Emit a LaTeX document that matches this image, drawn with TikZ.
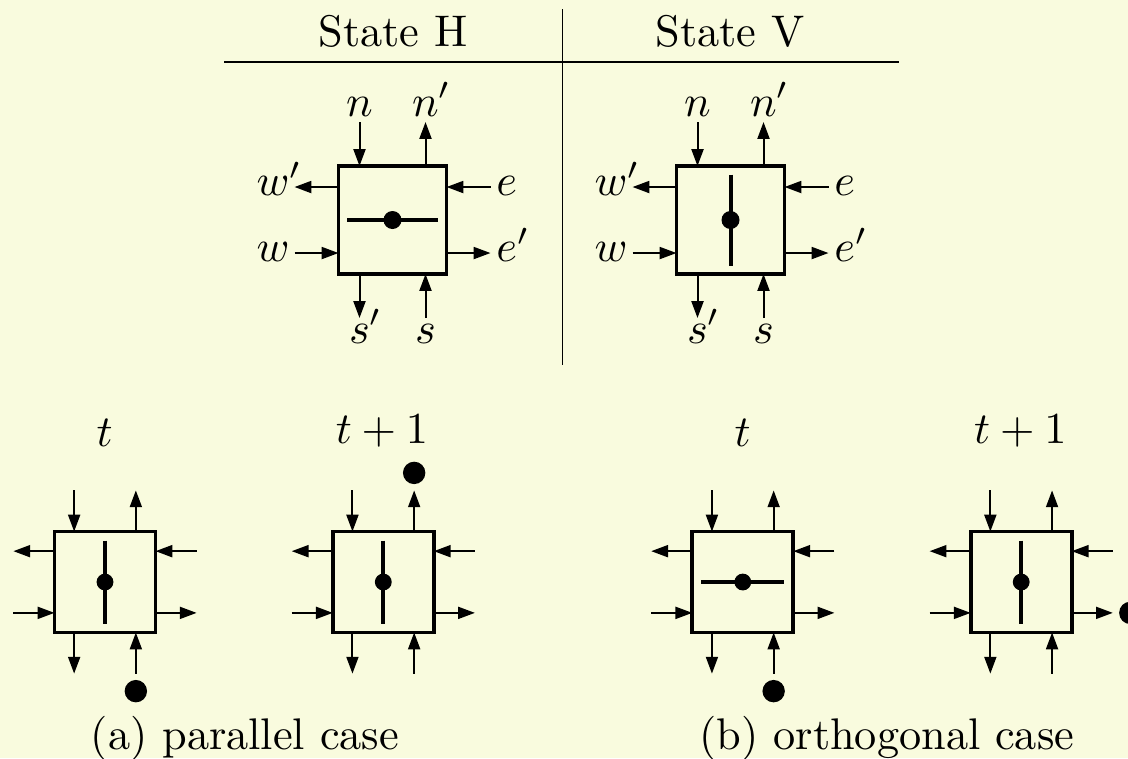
\documentclass[tikz,border=0pt]{standalone}
\usetikzlibrary{arrows.meta,calc}
\definecolor{bgyellow}{RGB}{249,251,222}
\tikzset{
  boxline/.style={line width=0.85pt},
  barline/.style={line width=0.9pt},
  stub/.style={line width=0.45pt,-{Triangle[length=3.8pt,width=2.7pt]}},
  lab/.style={anchor=base,inner sep=0pt},
  rulestyle/.style={line width=0.4pt},
}
% #1 name, #2 x, #3 y, #4 scale, #5 bar start, #6 bar end
\newcommand\gcell[6]{%
 \begin{scope}[shift={(#2,#3)},scale=#4]
  \coordinate (#1) at (0,0);
  \coordinate (#1-nw) at (-54,-54); \coordinate (#1-se) at (54,54);
  \coordinate (#1-n0) at (-33,-98); \coordinate (#1-n1) at (-33,-54);
  \coordinate (#1-np1) at (33,-54); \coordinate (#1-np0) at (33,-98);
  \coordinate (#1-wp1) at (-54,-33); \coordinate (#1-wp0) at (-98,-33);
  \coordinate (#1-e0) at (98,-33); \coordinate (#1-e1) at (54,-33);
  \coordinate (#1-w0) at (-98,33); \coordinate (#1-w1) at (-54,33);
  \coordinate (#1-ep1) at (54,33); \coordinate (#1-ep0) at (98,33);
  \coordinate (#1-sp1) at (-33,54); \coordinate (#1-sp0) at (-33,98);
  \coordinate (#1-s0) at (33,98); \coordinate (#1-s1) at (33,54);
  \coordinate (#1-b0) at (#5); \coordinate (#1-b1) at (#6);
  \draw[boxline] (#1-nw) rectangle (#1-se);
  \draw[stub] (#1-n0) -- (#1-n1);
  \draw[stub] (#1-np1) -- (#1-np0);
  \draw[stub] (#1-wp1) -- (#1-wp0);
  \draw[stub] (#1-e0) -- (#1-e1);
  \draw[stub] (#1-w0) -- (#1-w1);
  \draw[stub] (#1-ep1) -- (#1-ep0);
  \draw[stub] (#1-sp1) -- (#1-sp0);
  \draw[stub] (#1-s0) -- (#1-s1);
  \draw[barline] (#1-b0) -- (#1-b1);
  \fill (#1) circle[radius=9];
 \end{scope}}
% labels for a top cell
\newcommand\glabels[3]{%
 \begin{scope}[shift={(#2,#3)}]
  \node[lab] (#1-ln)  at (-33,-104) {$n$};
  \node[lab] (#1-lnp) at (33,-104) {$n\rlap{$'$}$};
  \node[lab] (#1-lwp) at (-119.5,-24.5) {$w\rlap{$'$}$};
  \node[lab] (#1-lw)  at (-119.5,41.5) {$w$};
  \node[lab] (#1-le)  at (114.3,-24.5) {$e$};
  \node[lab] (#1-lep) at (114.3,41.5) {$e\rlap{$'$}$};
  \node[lab] (#1-lsp) at (-33,123) {$s\rlap{$'$}$};
  \node[lab] (#1-ls)  at (33,123) {$s$};
 \end{scope}}
\begin{document}
\begin{tikzpicture}[x=0.2257pt,y=-0.2257pt]
\useasboundingbox (0,0) rectangle (1128,758);
\fill[bgyellow] (0,0) rectangle (1128,758);
\clip (0,0) rectangle (1128,758);
% table rules
\coordinate (hl0) at (224,62.3); \coordinate (hl1) at (899,62.3);
\coordinate (vl0) at (562.5,9); \coordinate (vl1) at (562.5,365);
\draw[rulestyle] (hl0) -- (hl1);
\draw[rulestyle] (vl0) -- (vl1);
\node[lab] (hdrH) at (393,46) {State H};
\node[lab] (hdrV) at (730,46) {State V};
% top cells
\gcell{H}{392.5}{220}{1}{-45.5,0}{45.5,0}
\glabels{H}{392.5}{220}
\gcell{V}{730.5}{220}{1}{0,-45.5}{0,45.5}
\glabels{V}{730.5}{220}
% bottom cells
\gcell{AT}{105}{582}{0.935}{0,-44.4}{0,44.4}
\gcell{AU}{383.3}{582}{0.935}{0,-44.4}{0,44.4}
\gcell{BT}{742.8}{582}{0.935}{-44.4,0}{44.4,0}
\gcell{BU}{1021.2}{582}{0.935}{0,-44.4}{0,44.4}
\node[lab] (tAT) at (104.5,446.7) {$t$};
\node[lab] (tAU) at (382,443) {$t+1$};
\node[lab] (tBT) at (742.7,446.7) {$t$};
\node[lab] (tBU) at (1020.3,443) {$t+1$};
% particles
\fill ($(AT-s0)+(0,17.5)$) circle[radius=11.2];
\fill ($(AU-np0)+(0,-17.5)$) circle[radius=11.2];
\fill ($(BT-s0)+(0,17.5)$) circle[radius=11.2];
\fill ($(BU-ep0)+(17.5,0)$) circle[radius=11.2];
% captions
\node[lab] (capA) at (245,749.5) {(a) parallel case};
\node[lab] (capB) at (887,749.5) {(b) orthogonal case};
\end{tikzpicture}
\end{document}
